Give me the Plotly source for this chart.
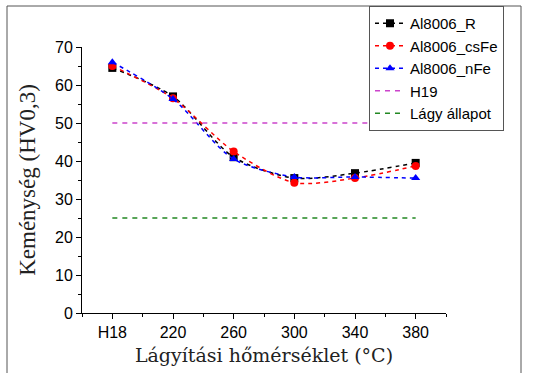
import plotly.graph_objects as go

categories = ["H18", "220", "260", "300", "340", "380"]
r_vals = [64.5, 57.0, 41.0, 35.5, 36.8, 39.5]
cs_vals = [65.0, 56.5, 42.5, 34.3, 35.5, 38.7]
n_vals = [66.0, 56.3, 40.5, 35.8, 35.8, 35.5]
h19 = 50
lagy = 25

xpos = list(range(len(categories)))

fig = go.Figure()
series = [
    ("Al8006_R", r_vals, "black", "square"),
    ("Al8006_csFe", cs_vals, "red", "circle"),
    ("Al8006_nFe", n_vals, "blue", "triangle-up"),
]
for name, vals, col, sym in series:
    fig.add_trace(go.Scatter(
        x=xpos, y=vals, name=name, mode="lines+markers",
        line=dict(color=col, dash="4px,4px", width=1.5, shape="spline", smoothing=0.8),
        marker=dict(color=col, symbol=sym, size=8),
    ))
fig.add_trace(go.Scatter(
    x=[xpos[0], xpos[-1]], y=[h19, h19], name="H19", mode="lines",
    line=dict(color="#cc44cc", dash="5px,5px", width=1.5),
))
fig.add_trace(go.Scatter(
    x=[xpos[0], xpos[-1]], y=[lagy, lagy], name="Lágy állapot", mode="lines",
    line=dict(color="#228822", dash="5px,5px", width=1.5),
))

W, H = 535, 373
L, R, T, B = 82, 446, 47, 313
pw, ph = R - L, B - T
def px(x): return (x - L) / pw
def py(y): return (B - y) / ph

fig.update_layout(
    width=W, height=H,
    margin=dict(l=L, r=W - R, t=T, b=H - B, autoexpand=False),
    paper_bgcolor="white", plot_bgcolor="white",
    showlegend=True,
    legend=dict(
        x=px(369), y=py(6), xanchor="left", yanchor="top",
        bordercolor="#555555", borderwidth=1, bgcolor="white",
        font=dict(family="Liberation Sans, Arial", size=15, color="black"),
        tracegroupgap=0, itemwidth=30,
    ),
    shapes=[dict(type="rect", xref="paper", yref="paper",
                 x0=px(7), x1=px(521), y0=py(378), y1=py(6),
                 line=dict(color="#555555", width=1), layer="below")],
)
fig.update_xaxes(
    range=[-0.5, 5.5], tickmode="array", tickvals=xpos, ticktext=categories,
    showgrid=False, zeroline=False, showline=True, linecolor="black", linewidth=1,
    ticks="outside", ticklen=5, tickcolor="black",
    minor=dict(tickmode="linear", tick0=-0.5, dtick=1, ticks="outside", ticklen=3, tickcolor="black"),
    tickfont=dict(family="Liberation Sans, Arial", size=16, color="black"),
    title=dict(text="Lágyítási hőmérséklet (°C)", standoff=8,
               font=dict(family="DejaVu Serif", size=19, color="#222222")),
)
fig.update_yaxes(
    range=[0, 70], tickmode="linear", tick0=0, dtick=10,
    showgrid=False, zeroline=False, showline=True, linecolor="black", linewidth=1,
    ticks="outside", ticklen=5, tickcolor="black",
    minor=dict(tickmode="linear", tick0=5, dtick=10, ticks="outside", ticklen=3, tickcolor="black"),
    tickfont=dict(family="Liberation Sans, Arial", size=16, color="black"),
    title=dict(text="Keménység (HV0,3)", standoff=12,
               font=dict(family="Liberation Serif", size=23, color="#222222")),
)

fig.write_html("out.html")
